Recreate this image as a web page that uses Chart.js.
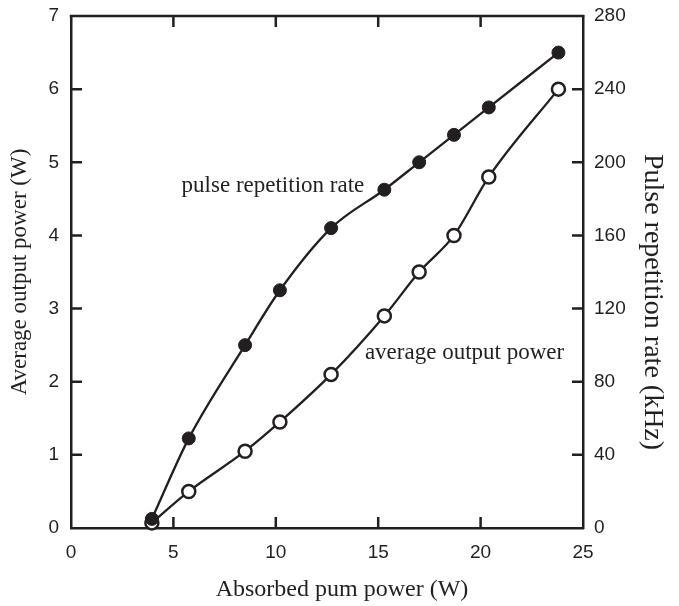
<!DOCTYPE html>
<html>
<head>
<meta charset="utf-8">
<script src="https://cdn.jsdelivr.net/npm/chart.js@4"></script>
<style>
  html, body { margin: 0; padding: 0; background: #fff; }
  #wrap { width: 679px; height: 606px; }
</style>
</head>
<body>
<div id="wrap"><canvas id="chart"></canvas></div>
<script>
// Absorbed pump power (W)
const pumpPower = [3.95, 5.75, 8.5, 10.2, 12.7, 15.3, 17.0, 18.7, 20.4, 23.8];
// Pulse repetition rate (kHz), right axis
const repRate = [5, 49, 100, 130, 164, 185, 200, 215, 230, 260];
// Average output power (W), left axis
const outPower = [0.07, 0.5, 1.05, 1.45, 2.1, 2.9, 3.5, 4.0, 4.8, 6.0];

const xTicks = [0, 5, 10, 15, 20, 25];
const yTicks = [0, 1, 2, 3, 4, 5, 6, 7];
const y1Ticks = [0, 40, 80, 120, 160, 200, 240, 280];

const ink = '#231f20';
const serif = '"Liberation Serif", "Times New Roman", serif';
const sans = '"Liberation Sans", Arial, sans-serif';

// Inward tick marks, top border, axis titles and curve labels
const framePlugin = {
    id: 'frame',
    afterDraw(chart) {
        const { ctx, chartArea: a, scales } = chart;
        const len = 11;
        ctx.save();
        ctx.strokeStyle = ink;
        ctx.lineWidth = 2.5;
        ctx.beginPath();
        ctx.moveTo(a.left - 1.25, a.top);
        ctx.lineTo(a.right + 1.25, a.top);
        xTicks.slice(1, -1).forEach(v => {
            const px = scales.x.getPixelForValue(v);
            ctx.moveTo(px, a.bottom);
            ctx.lineTo(px, a.bottom - len);
            ctx.moveTo(px, a.top);
            ctx.lineTo(px, a.top + len);
        });
        yTicks.slice(1, -1).forEach(v => {
            const py = scales.y.getPixelForValue(v);
            ctx.moveTo(a.left, py);
            ctx.lineTo(a.left + len, py);
        });
        y1Ticks.slice(1, -1).forEach(v => {
            const py = scales.y1.getPixelForValue(v);
            ctx.moveTo(a.right, py);
            ctx.lineTo(a.right - len, py);
        });
        ctx.stroke();

        ctx.fillStyle = ink;
        ctx.textBaseline = 'middle';
        ctx.textAlign = 'left';
        ctx.font = '23px ' + serif;
        ctx.fillText('pulse repetition rate', scales.x.getPixelForValue(5.4), scales.y.getPixelForValue(4.68));
        ctx.fillText('average output power', scales.x.getPixelForValue(14.35), scales.y.getPixelForValue(2.39));

        // axis titles
        ctx.textAlign = 'center';
        ctx.font = '24px ' + serif;
        ctx.fillText('Absorbed pum power (W)', 342, 590);

        ctx.save();
        ctx.translate(20, 272);
        ctx.rotate(-Math.PI / 2);
        ctx.font = '23px ' + serif;
        ctx.fillText('Average output power (W)', 0, 0);
        ctx.restore();

        ctx.save();
        ctx.translate(652, 302);
        ctx.rotate(Math.PI / 2);
        ctx.font = '28px ' + serif;
        ctx.fillText('Pulse repetition rate (kHz)', 0, 0);
        ctx.restore();

        ctx.restore();
    }
};

// keep label overhang from pushing the plot area in
const noPad = s => { s.paddingTop = 0; s.paddingBottom = 0; s.paddingLeft = 0; s.paddingRight = 0; };

new Chart(document.getElementById('chart'), {
    type: 'line',
    data: {
        datasets: [{
            label: 'pulse repetition rate',
            data: pumpPower.map((x, i) => ({ x: x, y: repRate[i] })),
            yAxisID: 'y1',
            borderColor: ink,
            borderWidth: 2.3,
            backgroundColor: ink,
            pointBackgroundColor: ink,
            pointBorderColor: ink,
            pointBorderWidth: 1,
            pointRadius: 6.5,
            cubicInterpolationMode: 'monotone',
            clip: false
        }, {
            label: 'average output power',
            data: pumpPower.map((x, i) => ({ x: x, y: outPower[i] })),
            yAxisID: 'y',
            borderColor: ink,
            borderWidth: 2.3,
            backgroundColor: '#fff',
            pointBackgroundColor: '#fff',
            pointBorderColor: ink,
            pointBorderWidth: 2.5,
            pointRadius: 6.5,
            cubicInterpolationMode: 'monotone',
            clip: false
        }]
    },
    options: {
        responsive: true,
        maintainAspectRatio: false,
        animation: false,
        layout: { padding: { top: 16, left: 0, right: 0, bottom: 0 } },
        plugins: {
            legend: { display: false },
            tooltip: { enabled: false }
        },
        scales: {
            x: {
                type: 'linear',
                min: 0,
                max: 25,
                afterBuildTicks: s => { s.ticks = xTicks.map(v => ({ value: v })); },
                afterFit: s => { s.height = 78; noPad(s); },
                grid: { display: false, drawTicks: false },
                border: { display: true, color: ink, width: 2.5 },
                ticks: { color: ink, font: { family: sans, size: 19 }, padding: 13, maxRotation: 0 }
            },
            y: {
                type: 'linear',
                position: 'left',
                min: 0,
                max: 7,
                afterBuildTicks: s => { s.ticks = yTicks.map(v => ({ value: v })); },
                afterFit: s => { s.width = 71; noPad(s); },
                grid: { display: false, drawTicks: false },
                border: { display: true, color: ink, width: 2.5 },
                ticks: { color: ink, font: { family: sans, size: 19 }, padding: 12 }
            },
            y1: {
                type: 'linear',
                position: 'right',
                min: 0,
                max: 280,
                afterBuildTicks: s => { s.ticks = y1Ticks.map(v => ({ value: v })); },
                afterFit: s => { s.width = 96; noPad(s); },
                grid: { display: false, drawTicks: false },
                border: { display: true, color: ink, width: 2.5 },
                ticks: { color: ink, font: { family: sans, size: 19 }, padding: 11 }
            }
        }
    },
    plugins: [framePlugin]
});
</script>
</body>
</html>
